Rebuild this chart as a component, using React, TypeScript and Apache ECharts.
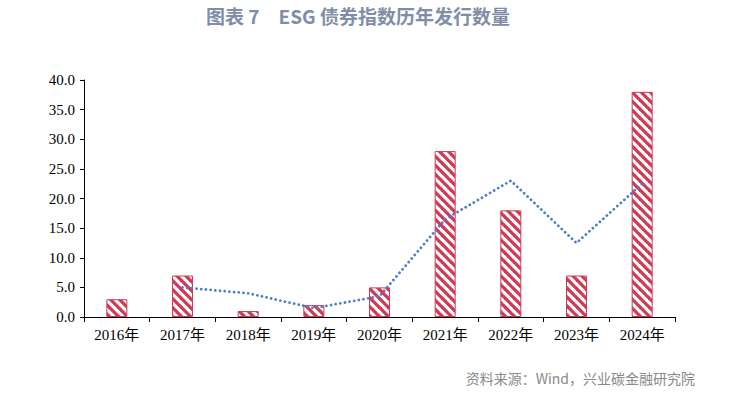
import React, { useEffect, useRef } from "react";
import * as echarts from "echarts";

const categories = ["2016年", "2017年", "2018年", "2019年", "2020年", "2021年", "2022年", "2023年", "2024年"];
const issueCounts = [3, 7, 1, 2, 5, 28, 18, 7, 38];
const movingAvg = [null, 5, 4, 1.5, 3.5, 16.5, 23, 12.5, 22.5];
const yMin = 0;
const yMax = 40;
const yInterval = 5;
const titleText = "图表 7　ESG 债券指数历年发行数量";
const sourceText = "资料来源：Wind，兴业碳金融研究院";

function makeStripe(): HTMLCanvasElement {
  const s = 9;
  const c = document.createElement("canvas");
  c.width = s;
  c.height = s;
  const ctx = c.getContext("2d")!;
  ctx.fillStyle = "#ffffff";
  ctx.fillRect(0, 0, s, s);
  ctx.strokeStyle = "#cf3a55";
  ctx.lineWidth = 3.3;
  for (const k of [-s, 0, s]) {
    ctx.beginPath();
    ctx.moveTo(-2, -2 + k);
    ctx.lineTo(s + 2, s + 2 + k);
    ctx.stroke();
  }
  return c;
}

export default function App() {
  const ref = useRef<HTMLDivElement>(null);
  useEffect(() => {
    if (!ref.current) return;
    const chart = echarts.init(ref.current, undefined, { renderer: "svg" });
    const stripe = makeStripe();
    const serif = "'Liberation Serif', 'Times New Roman', 'Noto Sans CJK SC', serif";
    chart.setOption({
      animation: false,
      backgroundColor: "#ffffff",
      grid: { left: 84, right: 64, top: 80, bottom: 81, containLabel: false },
      graphic: [
        {
          type: "text",
          left: 206,
          top: 6,
          style: {
            text: titleText,
            font: "bold 19px 'Noto Sans CJK SC', sans-serif",
            fill: "#7f8ea6",
          },
        },
        {
          type: "text",
          right: 44,
          top: 371,
          style: {
            text: sourceText,
            font: "14px 'Noto Sans CJK SC', sans-serif",
            fill: "#8a8a8a",
          },
        },
      ],
      xAxis: {
        type: "category",
        data: categories,
        boundaryGap: true,
        axisLine: { lineStyle: { color: "#000", width: 1 } },
        axisTick: { show: true, length: 5, lineStyle: { color: "#000" } },
        axisLabel: { color: "#000", fontSize: 15, fontFamily: serif, margin: 10 },
      },
      yAxis: {
        type: "value",
        min: yMin,
        max: yMax,
        interval: yInterval,
        splitLine: { show: false },
        axisLine: { show: true, lineStyle: { color: "#000", width: 1 } },
        axisTick: { show: true, length: 4, lineStyle: { color: "#000" } },
        axisLabel: {
          color: "#000",
          fontSize: 15,
          fontFamily: serif,
          margin: 9,
          formatter: (v: number) => v.toFixed(1),
        },
      },
      series: [
        {
          type: "bar",
          data: issueCounts,
          barWidth: 21,
          itemStyle: {
            color: { image: stripe, repeat: "repeat", imageWidth: 9, imageHeight: 9 },
            borderColor: "#cf3a55",
            borderWidth: 1,
          },
        },
        {
          type: "line",
          data: movingAvg,
          showSymbol: false,
          symbol: "none",
          connectNulls: false,
          lineStyle: { color: "#4e7fc4", width: 2.8, type: [0.01, 4.7], cap: "round" },
        },
      ],
    });
    return () => chart.dispose();
  }, []);
  return <div ref={ref} style={{ width: 739, height: 398, position: "absolute", left: 0, top: 0 }} />;
}
